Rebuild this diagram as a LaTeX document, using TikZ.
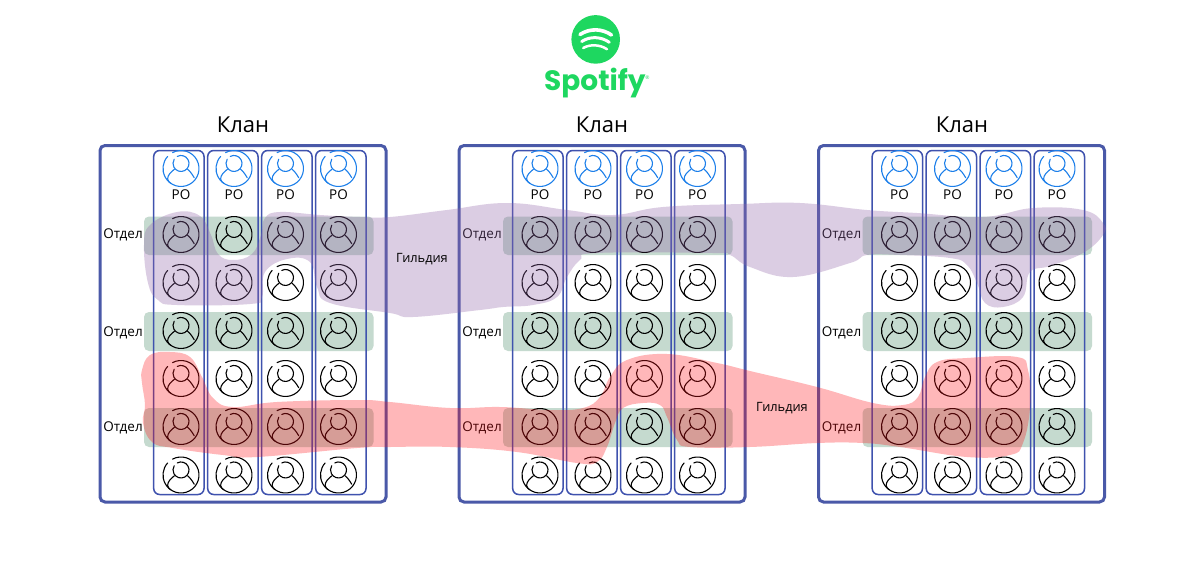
\documentclass[tikz,border=0pt]{standalone}
\usepackage{fontspec}
\setmainfont{Open Sans}
\newfontfamily\logofont{Poppins}
\usetikzlibrary{calc}
\definecolor{clanblue}{HTML}{4A59A8}
\definecolor{colblue}{HTML}{3F52AE}
\definecolor{pobluec}{HTML}{1C7FEA}
\definecolor{deptgreen}{HTML}{C5DACF}
\definecolor{guildpurple}{RGB}{146,100,168}
\definecolor{guildred}{RGB}{255,17,24}
\definecolor{spgreen}{HTML}{1ED760}
\tikzset{
  clanbox/.style={draw=clanblue,line width=3pt,rounded corners=5pt},
  colbox/.style={draw=colblue,line width=1.5pt,rounded corners=6pt},
  deptbar/.style={fill=deptgreen,rounded corners=5pt},
  clanlabel/.style={font=\fontsize{22}{24}\selectfont,inner sep=0pt},
  smalllabel/.style={font=\fontsize{13.5}{15}\selectfont,inner sep=0pt,text=black},
  guildlabel/.style={font=\fontsize{12.8}{15}\selectfont,inner sep=0pt,text=black},
  polabel/.style={font=\fontsize{13.5}{15}\selectfont,inner sep=0pt},
  guildpurplefill/.style={fill=guildpurple,fill opacity=.32},
  guildredfill/.style={fill=guildred,fill opacity=.3},
  logoarc/.style={draw=white,line cap=round},
  pics/person/.style={code={
    \begin{scope}[line width=1.1pt,draw=#1,line cap=round]
    \draw (-8.45,-15.9) arc[start angle=-118,end angle=222,radius=18];
    \draw (-3.75,-12.1) arc[start angle=-118,end angle=212,radius=8];
    \draw (-6.6,0.8) .. controls (-9.5,3) and (-13.5,6.5) .. (-13.4,10.5) .. controls (-13.2,12.5) and (-11.5,14) .. (-10.2,14.8);
    \draw (6.6,0.8) .. controls (8.5,2.2) and (10.8,5) .. (13.2,9.2);
    \end{scope}
  }},
}
\begin{document}
\begin{tikzpicture}[x=1pt,y=-1pt]
\useasboundingbox (0,0) rectangle (1200,576);
\fill[white] (0,0) rectangle (1200,576);

% logo
\fill[spgreen] (595.7,39.4) circle[radius=24.3];
\draw[logoarc,line width=3.6pt] (580,34.5) .. controls (590,28) and (602,28.5) .. (611.5,35);
\draw[logoarc,line width=3pt] (581.7,41.5) .. controls (590,36) and (601,36.5) .. (609.3,42.3);
\draw[logoarc,line width=2.5pt] (583.2,48) .. controls (590,44) and (600,44.5) .. (607,49.2);
\node[anchor=base west,inner sep=0pt,text=spgreen,font=\logofont\bfseries\fontsize{28}{30}\selectfont] (logotext) at (544,90) {Spotify};
\node[inner sep=0pt,text=spgreen,font=\fontsize{5}{6}\selectfont] (logomark) at (647.5,78) {®};

\foreach \ox/\cn/\kx in {0/a/243,359/b/602,718.5/c/962}{
  \begin{scope}[shift={(\ox,0)}]
    \node[clanlabel] (klan\cn) at (\kx-\ox,125) {Клан};
    \draw[clanbox] (100,145.5) rectangle (386,502);
    \foreach \ty/\by in {216.5/255,312/351,408/447}
      \fill[deptbar] (144,\ty) rectangle (373.5,\by);
    \foreach \cl/\cr in {153.7/204,207.7/258,261.7/312,315.7/366}
      \draw[colbox] (\cl,150.5) rectangle (\cr,494.5);
    \foreach \ix in {181,234,285.5,338.5}{
      \pic at (\ix,168.5) {person=pobluec};
      \node[polabel] at (\ix,195) {PO};
      \foreach \iy in {234.5,282.5,330.5,378.5,426.5,475}
        \pic at (\ix,\iy) {person=black};
    }
    \node[smalllabel] (dept\cn1) at (123,235) {Отдел};
    \node[smalllabel] (dept\cn2) at (123,332.5) {Отдел};
    \node[smalllabel] (dept\cn3) at (123,428) {Отдел};
  \end{scope}
}

% guild 1
\fill[guildpurplefill] plot[smooth cycle,tension=0.7] coordinates {
(144,245)(150,225)(177,212)(200,216)(211,235)(218,254)(233,260)(252,254)(261,235)(265,218)(280,212)(320,215)(360,217)(390,217)(447,210)(507,203)(567,210)(613,215)(663,207)(740,204)(800,203)(867,210)(917,213)(983,217)(1033,208)(1083,210)(1103,223)(1103,235)(1083,253)(1050,266)(1030,272)(1023,297)(1003,307)(985,303)(977,283)(967,265)(950,258)(900,255)(867,255)(850,263)(793,277)(750,267)(730,255)(713,253)(597,253)(580,260)(567,277)(557,297)(533,305)(503,307)(480,310)(413,317)(390,313)(330,303)(317,287)(310,262)(287,259)(265,272)(262,297)(250,304)(177,305)(158,300)(148,283)};

% guild 2
\fill[guildredfill] plot[smooth cycle,tension=0.7] coordinates {
(142,383)(142,370)(150,355)(170,352)(190,357)(202,377)(213,398)(233,407)(277,402)(357,400)(390,402)(450,408)(500,407)(550,410)(583,408)(600,397)(610,377)(627,360)(667,354)(717,363)(750,371)(817,387)(873,403)(903,405)(918,397)(925,377)(937,362)(967,358)(1017,357)(1028,370)(1030,407)(1023,443)(1010,455)(967,457)(900,447)(863,443)(817,443)(750,447)(690,447)(677,440)(667,417)(660,405)(643,403)(623,408)(615,423)(607,447)(597,462)(577,463)(517,452)(450,447)(390,447)(357,448)(257,457)(223,455)(173,448)(152,442)(143,423)(145,405)};

\node[guildlabel] (guildone) at (422,259.5) {Гильдия};
\node[guildlabel] (guildtwo) at (782,408.5) {Гильдия};
\end{tikzpicture}
\end{document}
